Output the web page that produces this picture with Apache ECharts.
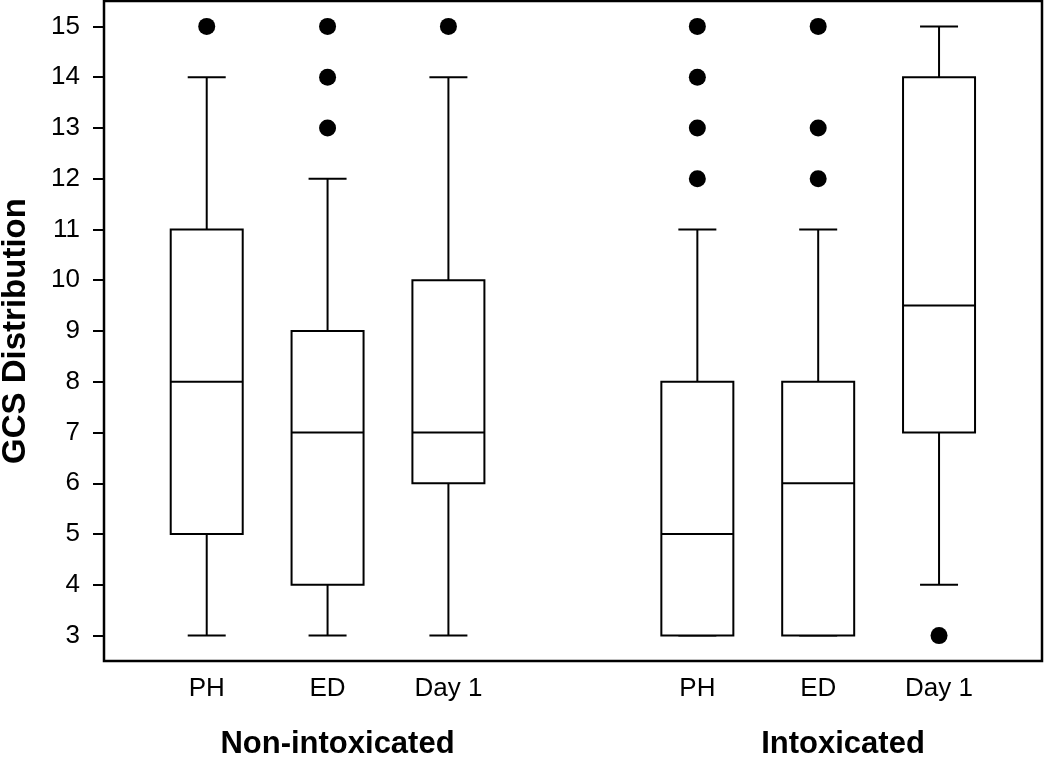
<!DOCTYPE html>
<html>
<head>
<meta charset="utf-8">
<script src="https://cdn.jsdelivr.net/npm/echarts@6/dist/echarts.min.js"></script>
<style>
  html, body { margin: 0; padding: 0; background: #fff; }
  #chart { width: 1050px; height: 757px; }
</style>
</head>
<body>
<div id="chart"></div>
<script>
// ---- Data ----
const categories = ['PH', 'ED', 'Day 1', 'PH', 'ED', 'Day 1'];
const groups = ['Non-intoxicated', 'Intoxicated'];
const minV    = [3, 3, 3, 3, 3, 4];
const q1V     = [5, 4, 6, 3, 3, 7];
const medianV = [8, 7, 7, 5, 6, 9.5];
const q3V     = [11, 9, 10, 8, 8, 14];
const maxV    = [14, 12, 14, 11, 11, 15];
const outliers = [[15], [13, 14, 15], [15], [12, 13, 14, 15], [12, 13, 15], [3]];
const yTicks = [3, 4, 5, 6, 7, 8, 9, 10, 11, 12, 13, 14, 15];

// ---- Layout (not data) ----
const slotX = [1, 2, 3, 5.06, 6.06, 7.06];
const BOX_W = 72;
const CAP_W = 38;
const FONT = 'Liberation Sans, Arial, sans-serif';

const boxData = categories.map((c, i) => [slotX[i], minV[i], q1V[i], medianV[i], q3V[i], maxV[i]]);
const outlierData = [];
outliers.forEach((arr, i) => arr.forEach(v => outlierData.push([slotX[i], v])));

function labelFor(v) {
  let best = 0, bd = Infinity;
  slotX.forEach((x, i) => { const d = Math.abs(x - v); if (d < bd) { bd = d; best = i; } });
  return bd < 0.01 ? categories[best] : '';
}

const chart = echarts.init(document.getElementById('chart'), null, { renderer: 'canvas' });
const lineStyle = { stroke: '#000', lineWidth: 2 };

chart.setOption({
  animation: false,
  backgroundColor: '#fff',
  grid: {
    left: 104, right: 8, top: 1, bottom: 96,
    containLabel: false, outerBoundsMode: 'none',
    show: true, borderColor: '#000', borderWidth: 2.5, backgroundColor: 'transparent'
  },
  xAxis: {
    type: 'value', min: 0.15, max: 7.912,
    axisLine: { show: false },
    axisTick: { show: false },
    splitLine: { show: false },
    axisLabel: {
      customValues: slotX,
      formatter: labelFor,
      color: '#000', fontFamily: FONT, fontSize: 26, margin: 15
    }
  },
  yAxis: {
    type: 'value', min: 2.5, max: 15.5,
    name: 'GCS Distribution', nameLocation: 'middle', nameRotate: 90, nameGap: 72,
    nameTextStyle: { color: '#000', fontFamily: FONT, fontSize: 33, fontWeight: 'bold' },
    axisLine: { show: false },
    splitLine: { show: false },
    axisTick: { show: true, inside: false, length: 11, customValues: yTicks, lineStyle: { color: '#000', width: 2 } },
    axisLabel: { customValues: yTicks, color: '#000', fontFamily: FONT, fontSize: 26, margin: 24 }
  },
  graphic: [
    { type: 'text', x: 337.5, y: 744, style: { text: groups[0], font: 'bold 31px ' + FONT, fill: '#000', textAlign: 'center', textVerticalAlign: 'middle' } },
    { type: 'text', x: 843, y: 744, style: { text: groups[1], font: 'bold 31px ' + FONT, fill: '#000', textAlign: 'center', textVerticalAlign: 'middle' } }
  ],
  series: [
    {
      type: 'custom',
      data: boxData,
      encode: { x: 0, y: [1, 2, 3, 4, 5] },
      renderItem: function (params, api) {
        const x = api.value(0);
        const pMin = api.coord([x, api.value(1)]);
        const pQ1 = api.coord([x, api.value(2)]);
        const pMed = api.coord([x, api.value(3)]);
        const pQ3 = api.coord([x, api.value(4)]);
        const pMax = api.coord([x, api.value(5)]);
        const cx = pMed[0];
        const hb = BOX_W / 2, hc = CAP_W / 2;
        return {
          type: 'group',
          children: [
            { type: 'line', shape: { x1: cx, y1: pMax[1], x2: cx, y2: pQ3[1] }, style: lineStyle },
            { type: 'line', shape: { x1: cx, y1: pQ1[1], x2: cx, y2: pMin[1] }, style: lineStyle },
            { type: 'line', shape: { x1: cx - hc, y1: pMax[1], x2: cx + hc, y2: pMax[1] }, style: lineStyle },
            { type: 'line', shape: { x1: cx - hc, y1: pMin[1], x2: cx + hc, y2: pMin[1] }, style: lineStyle },
            { type: 'rect', shape: { x: cx - hb, y: pQ3[1], width: BOX_W, height: pQ1[1] - pQ3[1] }, style: { fill: '#fff', stroke: '#000', lineWidth: 2 } },
            { type: 'line', shape: { x1: cx - hb, y1: pMed[1], x2: cx + hb, y2: pMed[1] }, style: lineStyle }
          ]
        };
      },
      z: 2
    },
    {
      type: 'scatter',
      data: outlierData,
      symbol: 'circle',
      symbolSize: 17,
      itemStyle: { color: '#000', opacity: 1 },
      z: 3
    }
  ]
});
</script>
</body>
</html>
